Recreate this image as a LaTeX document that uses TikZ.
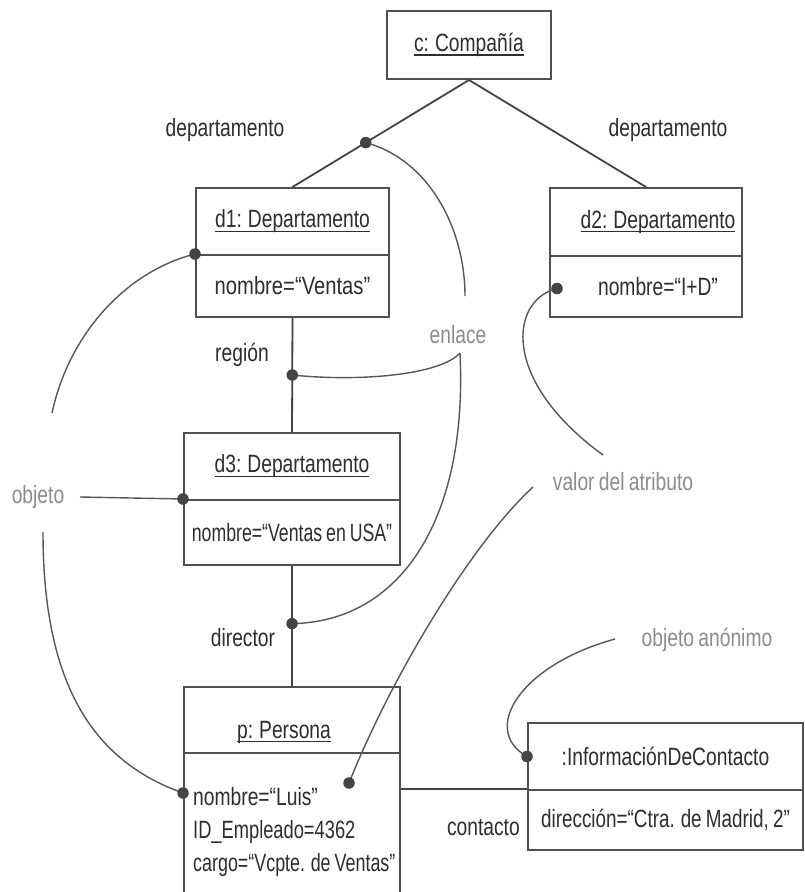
\documentclass[tikz,border=0pt]{standalone}
\usepackage{graphicx}
\usepackage{fontspec}
\setmainfont{Liberation Sans}[FakeStretch=0.77, WordSpace=0.8]
\usetikzlibrary{calc}
\definecolor{ink}{HTML}{2E2E2E}
\definecolor{notec}{HTML}{8C8C8C}
\definecolor{wire}{HTML}{444444}
\definecolor{frame}{HTML}{505050}
% underlined object name
\newcommand\uln[1]{\setbox0\hbox{#1}\rlap{\rule[-4pt]{\wd0}{1.2pt}}\box0}
% horizontally squeezed text
\newcommand\squeeze[2]{\scalebox{#1}[1]{#2}}

\begin{document}
\begin{tikzpicture}[x=1pt,y=-1pt,
  every node/.style={font=\fontsize{25}{33}\selectfont, text=ink, inner sep=0pt},
  cell/.style={draw=frame, line width=2pt, anchor=north west},
  link/.style={draw=wire, line width=1.8pt},
  lbl/.style={text=ink},
  note/.style={text=notec},
  lead/.style={draw=wire!90, line width=1.4pt},
  dot/.style={circle, fill=wire, minimum size=11.5pt, inner sep=0pt, draw=none}
]
\fill[white] (0,0) rectangle (804,892);
\useasboundingbox (0,0) rectangle (804,892);

% object boxes
\node[cell, minimum width=164pt, minimum height=68pt] (c) at (386,10) {\uln{c: Compañía}};

\node[cell, minimum width=193pt, minimum height=67pt] (d1h) at (195,187) {\uln{d1: Departamento}};
\node[cell, minimum width=193pt, minimum height=62pt] (d1b) at (195,254) {\squeeze{1.05}{nombre=“Ventas”}};

\node[cell, minimum width=192pt, minimum height=68pt] (d2h) at (549,187) {\hspace*{24pt}\uln{d2: Departamento}};
\node[cell, minimum width=192pt, minimum height=61pt] (d2b) at (549,255) {\hspace*{24pt}nombre=“I+D”};

\node[cell, minimum width=216pt, minimum height=67pt] (d3h) at (183,432) {\uln{d3: Departamento}};
\node[cell, minimum width=216pt, minimum height=65pt] (d3b) at (183,499) {\squeeze{0.92}{nombre=“Ventas en USA”}};

\node[cell, minimum width=216pt, minimum height=66pt, text height=42pt] (ph) at (183,686) {\uln{p: Persona}\hspace*{16pt}};
\node[cell, minimum width=216pt, minimum height=150pt] (pb) at (183,752) {};
\node[anchor=north west, align=left] (pattrs) at (193,787)
  {nombre=“Luis”\\ \squeeze{0.95}{ID\_Empleado=4362}\\ \squeeze{0.93}{cargo=“Vcpte. de Ventas”}};

\node[cell, minimum width=275pt, minimum height=67pt] (infoh) at (527,722) {:InformaciónDeContacto};
\node[cell, minimum width=275pt, minimum height=60pt] (infob) at (527,789) {\squeeze{0.98}{dirección=“Ctra. de Madrid, 2”}};

% links
\draw[link] (c.south) -- (d1h.north);
\draw[link] (c.south) -- (d2h.north);
\draw[link] (d1b.south) -- (d3h.north);
\draw[link] (d3b.south) -- (ph.north);
\draw[link] (pb.east |- infob.north) -- (infob.north west);

% role names
\node[lbl] (ldep1) at (225,130) {departamento};
\node[lbl] (ldep2) at (668,130) {departamento};
\node[lbl] (lreg) at (242,355) {región};
\node[lbl] (ldir) at (243,638) {director};
\node[lbl, anchor=east] (lcon) at (520,828) {contacto};

% annotations
\node[note] (nenl) at (458,335) {enlace};
\node[note] (nobj) at (38,497) {objeto};
\node[note] (nval) at (623,482) {valor del atributo};
\node[note] (nano) at (707,640) {objeto anónimo};

% points the annotations refer to
\coordinate (pk1) at ($(c.south)!0.585!(d1h.north)$);
\coordinate (preg) at ($(d1b.south)!0.5!(d3h.north)$);
\coordinate (pdir) at ($(d3b.south)!0.48!(ph.north)$);
\coordinate (pd1) at (d1b.north west);
\coordinate (pd3) at (d3b.north west);
\coordinate (pp) at ($(pb.north west)+(0,41)$);
\coordinate (pd2) at ($(d2b.west)+(8,2)$);
\coordinate (pattr) at (349,783);
\coordinate (pinfo) at (infoh.west);

% leader curves
\coordinate (eA) at (465,296);
\coordinate (eB) at (460,353);
\draw[lead] (pk1) .. controls (430,160) and (465,230) .. (eA);
\draw[lead] (eB) .. controls (440,375) and (360,382) .. (preg);
\draw[lead] (eB) .. controls (468,520) and (400,622) .. (pdir);

\coordinate (oA) at (52,413);
\coordinate (oB) at (80,497);
\coordinate (oC) at (43,532);
\draw[lead] (oA) .. controls (70,330) and (130,270) .. (pd1);
\draw[lead] (oB) -- (pd3);
\draw[lead] (oC) .. controls (43,680) and (90,760) .. (pp);

\coordinate (vA) at (603,455);
\coordinate (vB) at (533,487);
\draw[lead] (vA) .. controls (500,380) and (510,300) .. (pd2);
\draw[lead] (vB) .. controls (470,545) and (390,680) .. (pattr);

\coordinate (aA) at (615,639);
\draw[lead] (aA) .. controls (520,665) and (480,730) .. (pinfo);

% attachment dots
\node[dot] (k1) at (pk1) {};
\node[dot] (kreg) at (preg) {};
\node[dot] (kdir) at (pdir) {};
\node[dot] (kd1) at (pd1) {};
\node[dot] (kd3) at (pd3) {};
\node[dot] (kp) at (pp) {};
\node[dot] (kd2) at (pd2) {};
\node[dot] (kattr) at (pattr) {};
\node[dot] (kinfo) at (pinfo) {};
\end{tikzpicture}
\end{document}
